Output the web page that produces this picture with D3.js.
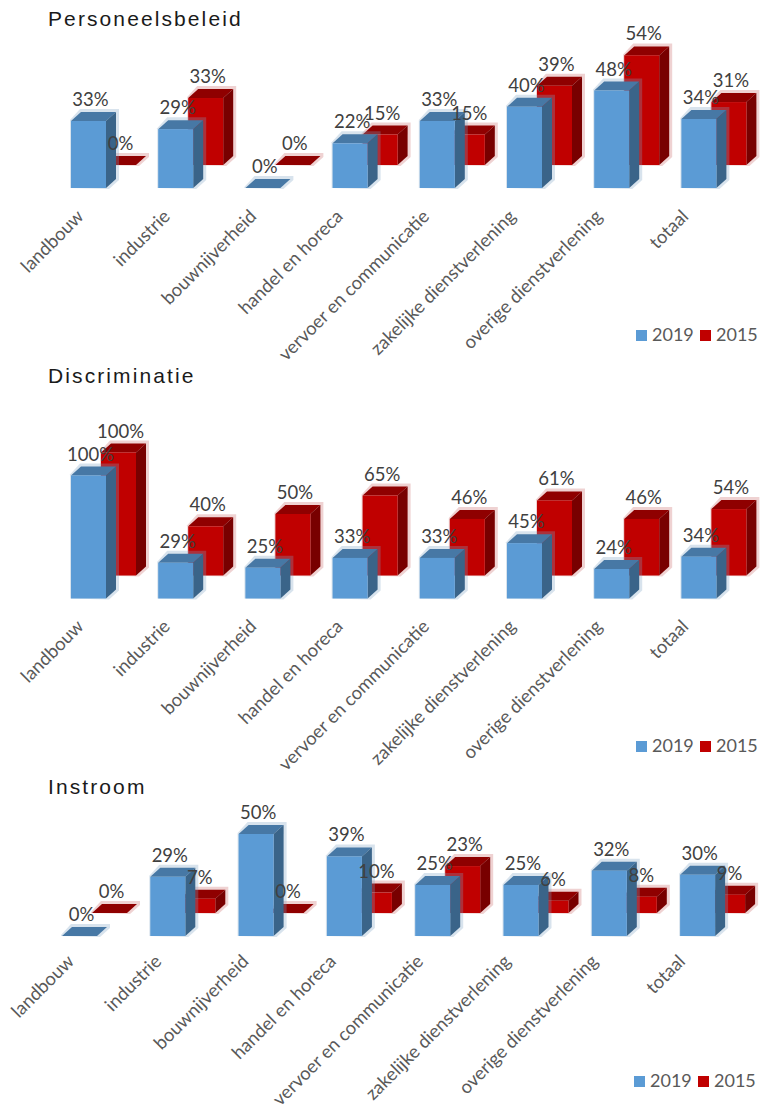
<!DOCTYPE html>
<html>
<head>
<meta charset="utf-8">
<script src="https://cdn.jsdelivr.net/npm/d3@7/dist/d3.min.js"></script>
<style>
  html, body { margin: 0; background: #fff; }
  svg { display: block; }
  .title { font-family: "Liberation Sans", Arial, sans-serif; font-size: 21px; letter-spacing: 2.1px; fill: #1a1a1a; }
  .value { font-family: Lato, sans-serif; font-size: 18.5px; fill: #404040; text-anchor: middle; }
  .axis text { font-family: Lato, sans-serif; font-size: 18.4px; fill: #595959; }
  .legend text { font-family: Lato, sans-serif; font-size: 18px; fill: #595959; }
</style>
</head>
<body>
<svg id="chart" width="760" height="1110"></svg>
<script>
// Survey results per sector, 2019 against 2015
const categories = ["landbouw", "industrie", "bouwnijverheid", "handel en horeca",
  "vervoer en communicatie", "zakelijke dienstverlening", "overige dienstverlening", "totaal"];
const years = ["2019", "2015"];

const personeelsbeleid2019 = [33, 29, 0, 22, 33, 40, 48, 34];
const personeelsbeleid2015 = [0, 33, 0, 15, 15, 39, 54, 31];
const discriminatie2019 = [100, 29, 25, 33, 33, 45, 24, 34];
const discriminatie2015 = [100, 40, 50, 65, 46, 61, 46, 54];
const instroom2019 = [0, 29, 50, 39, 25, 25, 32, 30];
const instroom2015 = [0, 7, 0, 10, 23, 6, 8, 9];

const panels = [
  { title: "Personeelsbeleid", a: personeelsbeleid2019, b: personeelsbeleid2015, titleY: 26, base: 188, k: 2.03,
    left: 71, step: 87.2, labelLeft: 37, labelStep: 86.4, labelY: 213, legendX: 636, legendY: 330 },
  { title: "Discriminatie", a: discriminatie2019, b: discriminatie2015, titleY: 383, base: 598.5, k: 1.23,
    left: 71, step: 87.2, labelLeft: 37, labelStep: 86.4, labelY: 623, legendX: 636, legendY: 741 },
  { title: "Instroom", a: instroom2019, b: instroom2015, titleY: 794, base: 936, k: 2.04,
    left: 62, step: 88.3, labelLeft: 27, labelStep: 87.3, labelY: 958, legendX: 634, legendY: 1076 }
];

const fills = {
  "2019": { front: "#5b9bd5", top: "#4778a5", side: "#3a6489", halo: "#7fa3c4" },
  "2015": { front: "#c00000", top: "#8f0000", side: "#780000", halo: "#c96a6a" }
};

const barWidth = 35, depthX = 10, depthY = 9, rowShiftX = 30, rowShiftY = 23;
const svg = d3.select("#chart");
const path = pts => "M" + pts.map(p => p.join(",")).join("L") + "Z";

// One box: soft outline behind, then top, side and front faces
function box(g, x, y, base, c) {
  const w = barWidth;
  g.append("path").attr("fill", c.halo).attr("opacity", 0.3).attr("d", path([
    [x - 1, base], [x - 1, y - 1], [x + depthX - 1, y - depthY - 3],
    [x + w + depthX + 3, y - depthY - 3], [x + w + depthX + 3, base - depthY + 1], [x + w + 3, base + 1]
  ]));
  g.append("path").attr("fill", c.top).attr("d", path([
    [x, y], [x + depthX, y - depthY], [x + w + depthX, y - depthY], [x + w, y]
  ]));
  g.append("path").attr("fill", c.side).attr("d", path([
    [x + w, y], [x + w + depthX, y - depthY], [x + w + depthX, base - depthY], [x + w, base]
  ]));
  g.append("rect").attr("fill", c.front).attr("x", x).attr("y", y).attr("width", w).attr("height", base - y);
}

panels.forEach(p => {
  const x = d3.scaleBand().domain(categories).range([p.left, p.left + 8 * p.step]);
  const xLabel = d3.scaleBand().domain(categories).range([p.labelLeft, p.labelLeft + 8 * p.labelStep]);
  const yFront = d3.scaleLinear().domain([0, 100]).range([p.base, p.base - 100 * p.k]);
  const yBack = d3.scaleLinear().domain([0, 100]).range([p.base - rowShiftY, p.base - rowShiftY - 100 * p.k]);

  svg.append("text").attr("class", "title").attr("x", 48).attr("y", p.titleY).text(p.title);

  // The 2015 row stands behind the 2019 row
  const back = svg.append("g"), front = svg.append("g");
  categories.forEach((c, i) => {
    box(back, x(c) + rowShiftX, yBack(p.b[i]), yBack(0), fills["2015"]);
    box(front, x(c), yFront(p.a[i]), yFront(0), fills["2019"]);
  });

  const labels = svg.append("g");
  categories.forEach((c, i) => {
    labels.append("text").attr("class", "value")
      .attr("x", x(c) + barWidth / 2 + 2).attr("y", yFront(p.a[i]) - 15).text(p.a[i] + "%");
    labels.append("text").attr("class", "value")
      .attr("x", x(c) + rowShiftX + barWidth / 2 + 2).attr("y", yBack(p.b[i]) - 15).text(p.b[i] + "%");
  });

  // Sector names, slanted and ending under their bars
  const axis = svg.append("g").attr("class", "axis")
    .attr("transform", `translate(0,${p.labelY})`)
    .call(d3.axisBottom(xLabel).tickSize(0).tickPadding(0));
  axis.select(".domain").remove();
  axis.selectAll("text")
    .attr("y", 0).attr("dy", "0.35em")
    .attr("text-anchor", "end")
    .attr("transform", "rotate(-45)");

  const legend = svg.append("g").attr("class", "legend")
    .attr("transform", `translate(${p.legendX},${p.legendY})`);
  years.forEach((yr, i) => {
    legend.append("rect").attr("x", i * 64).attr("width", 11).attr("height", 11).attr("fill", fills[yr].front);
    legend.append("text").attr("x", i * 64 + 16).attr("y", 11).text(yr);
  });
});
</script>
</body>
</html>
